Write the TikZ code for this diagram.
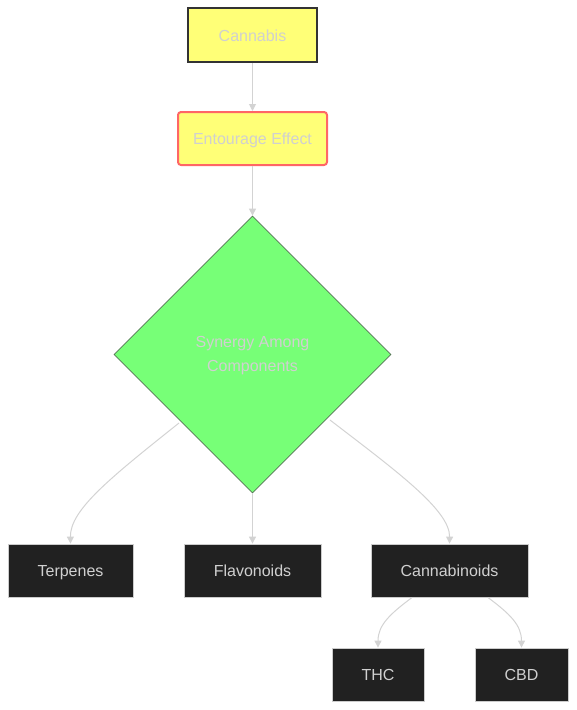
\documentclass[tikz,border=0pt]{standalone}
\usepackage{fontspec}
\setmainfont{Liberation Sans}
\usetikzlibrary{arrows.meta,shapes.geometric}
\definecolor{yel}{HTML}{FFFF77}
\definecolor{grn}{HTML}{77FF77}
\definecolor{grnb}{HTML}{557755}
\definecolor{redb}{HTML}{FF6666}
\definecolor{darkb}{HTML}{333333}
\definecolor{boxf}{HTML}{212121}
\definecolor{boxb}{HTML}{CCCCCC}
\definecolor{edgec}{HTML}{D3D3D3}
\definecolor{txtl}{HTML}{D0D0D0}
\tikzset{
  every node/.style={font=\fontsize{16pt}{24pt}\selectfont},
  fixtxt/.style={text height=13.5pt, text depth=1.5pt},
  darkbox/.style={rectangle, fixtxt, draw=boxb, line width=0.8pt, fill=boxf, text=txtl, minimum height=53pt, inner sep=0pt},
  edge/.style={draw=edgec, line width=1pt, -{Triangle[length=7pt,width=7pt]}}
}
\begin{document}
\begin{tikzpicture}[x=1pt,y=-1pt]
\useasboundingbox (0,0) rectangle (577,710);
\node[rectangle, fixtxt, draw=darkb, line width=2pt, fill=yel, text=txtl, minimum width=129pt, minimum height=54pt, inner sep=0pt] (can) at (252.5,35) {Cannabis};
\node[rectangle, fixtxt, rounded corners=3pt, draw=redb, line width=2pt, fill=yel, text=txtl, minimum width=149pt, minimum height=53pt, inner sep=0pt] (ent) at (252.5,138.5) {Entourage Effect};
\node[diamond, aspect=1, draw=grnb, line width=0.8pt, fill=grn, minimum width=277pt, minimum height=277pt, inner sep=0pt] (syn) at (252.5,354.5) {};
\node[text=txtl, align=center, inner sep=0pt] (synt) at (252.5,355.5) {Synergy Among\\Components};
\node[darkbox, minimum width=125pt] (ter) at (70.5,570.5) {Terpenes};
\node[darkbox, minimum width=137pt] (fla) at (252.5,570.5) {Flavonoids};
\node[darkbox, minimum width=157pt] (cbn) at (449.5,570.5) {Cannabinoids};
\node[darkbox, minimum width=92pt] (thc) at (378,674.5) {THC};
\node[darkbox, minimum width=93pt] (cbd) at (521.5,674.5) {CBD};
\coordinate (s1) at (179,423);
\coordinate (s2) at (330,420);
\coordinate (c1) at (412,597.5);
\coordinate (c2) at (488,597.5);
\draw[edge] (can.south) -- (ent.north);
\draw[edge] (ent.south) -- (syn.north);
\draw[edge] (syn.south) -- (fla.north);
\draw[edge] (s1) .. controls (110,478) and (70,510) .. (ter.north);
\draw[edge] (s2) .. controls (395,470) and (450,510) .. (cbn.north);
\draw[edge] (c1) .. controls (390,614) and (378,625) .. (thc.north);
\draw[edge] (c2) .. controls (510,614) and (521.5,625) .. (cbd.north);
\end{tikzpicture}
\end{document}
